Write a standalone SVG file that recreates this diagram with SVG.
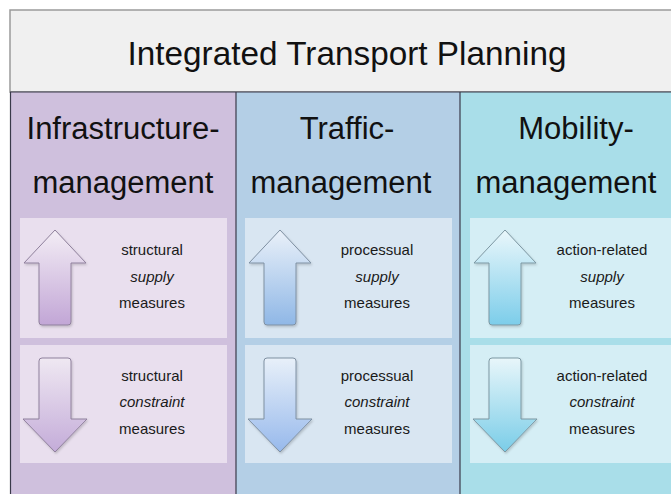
<svg xmlns="http://www.w3.org/2000/svg" xmlns:xlink="http://www.w3.org/1999/xlink" width="671" height="494" viewBox="0 0 671 494">
  <style>
    .title { font-family: "Liberation Sans", Arial, sans-serif; font-size: 34px; fill: #111; text-anchor: middle; }
    .head { font-family: "Liberation Sans", Arial, sans-serif; font-size: 31px; fill: #111; text-anchor: middle; }
    .lbl { font-family: "Liberation Sans", Arial, sans-serif; font-size: 15px; fill: #1a1a1a; text-anchor: middle; }
    .it { font-style: italic; }
    .divider { stroke: #3a3a4a; stroke-width: 1.2; }
    .arrow { stroke-width: 1; filter: url(#soft); }
  </style>
  <defs>
    <filter id="soft" x="-20%" y="-20%" width="150%" height="150%">
      <feDropShadow dx="1" dy="1.5" stdDeviation="1" flood-color="#000" flood-opacity="0.18"/>
    </filter>
    <!-- arrow shapes, drawn around x = 0 -->
    <path id="upArrow" d="M0,230 L31,263 L16,263 L16,322 Q16,325 13,325 L-13,325 Q-16,325 -16,322 L-16,263 L-31,263 Z"/>
    <path id="downArrow" d="M-16,361 Q-16,358 -13,358 L13,358 Q16,358 16,361 L16,419 L32,419 L0,452 L-32,419 L-16,419 Z"/>
    <linearGradient id="gUp1" x1="0" y1="0" x2="0" y2="1">
      <stop offset="0" stop-color="#f3edf5"/><stop offset="1" stop-color="#c2a6d6"/>
    </linearGradient>
    <linearGradient id="gDn1" x1="0" y1="0" x2="0" y2="1">
      <stop offset="0" stop-color="#efe8f2"/><stop offset="1" stop-color="#c4acd9"/>
    </linearGradient>
    <linearGradient id="gUp2" x1="0" y1="0" x2="0" y2="1">
      <stop offset="0" stop-color="#eaf1f9"/><stop offset="1" stop-color="#8fb7e6"/>
    </linearGradient>
    <linearGradient id="gDn2" x1="0" y1="0" x2="0" y2="1">
      <stop offset="0" stop-color="#e8f0f9"/><stop offset="1" stop-color="#97b9ec"/>
    </linearGradient>
    <linearGradient id="gUp3" x1="0" y1="0" x2="0" y2="1">
      <stop offset="0" stop-color="#eaf7fb"/><stop offset="1" stop-color="#7ccdea"/>
    </linearGradient>
    <linearGradient id="gDn3" x1="0" y1="0" x2="0" y2="1">
      <stop offset="0" stop-color="#e8f6fa"/><stop offset="1" stop-color="#7acde8"/>
    </linearGradient>
  </defs>

  <rect width="671" height="494" fill="#ffffff"/>

  <!-- header band -->
  <g id="header">
    <rect x="10" y="10" width="670" height="82" fill="#f0f0f0" stroke="#9a9a9a" stroke-width="1.5"/>
    <text class="title" x="347" y="65" textLength="439" lengthAdjust="spacingAndGlyphs">Integrated Transport Planning</text>
  </g>

  <!-- column 1 -->
  <g id="infrastructure">
    <rect x="10" y="92" width="226" height="410" fill="#cfc0dd"/>
    <text class="head" x="123" y="139">Infrastructure-</text>
    <text class="head" x="123" y="193">management</text>
    <g id="infra-supply">
      <rect x="20" y="218" width="207" height="120" fill="#e9dfee"/>
      <use xlink:href="#upArrow" transform="translate(55,0)" class="arrow" fill="url(#gUp1)" stroke="#8f809c"/>
      <text class="lbl" x="152" y="255">structural</text>
      <text class="lbl it" x="152" y="282">supply</text>
      <text class="lbl" x="152" y="308">measures</text>
    </g>
    <g id="infra-constraint">
      <rect x="20" y="345" width="207" height="118" fill="#e9dfee"/>
      <use xlink:href="#downArrow" transform="translate(55,0)" class="arrow" fill="url(#gDn1)" stroke="#8f809c"/>
      <text class="lbl" x="152" y="381">structural</text>
      <text class="lbl it" x="152" y="407">constraint</text>
      <text class="lbl" x="152" y="434">measures</text>
    </g>
  </g>

  <!-- column 2 -->
  <g id="traffic">
    <rect x="236" y="92" width="224" height="410" fill="#b4cfe6"/>
    <text class="head" x="347" y="139">Traffic-</text>
    <text class="head" x="341" y="193">management</text>
    <g id="traffic-supply">
      <rect x="245" y="218" width="207" height="120" fill="#d9e6f2"/>
      <use xlink:href="#upArrow" transform="translate(280,0)" class="arrow" fill="url(#gUp2)" stroke="#7f90a2"/>
      <text class="lbl" x="377" y="255">processual</text>
      <text class="lbl it" x="377" y="282">supply</text>
      <text class="lbl" x="377" y="308">measures</text>
    </g>
    <g id="traffic-constraint">
      <rect x="245" y="345" width="207" height="118" fill="#d9e6f2"/>
      <use xlink:href="#downArrow" transform="translate(280,0)" class="arrow" fill="url(#gDn2)" stroke="#7f90a2"/>
      <text class="lbl" x="377" y="381">processual</text>
      <text class="lbl it" x="377" y="407">constraint</text>
      <text class="lbl" x="377" y="434">measures</text>
    </g>
  </g>

  <!-- column 3 -->
  <g id="mobility">
    <rect x="460" y="92" width="220" height="410" fill="#a9dee9"/>
    <text class="head" x="576" y="139">Mobility-</text>
    <text class="head" x="566" y="193">management</text>
    <g id="mobility-supply">
      <rect x="470" y="218" width="210" height="120" fill="#d5eef5"/>
      <use xlink:href="#upArrow" transform="translate(505,0)" class="arrow" fill="url(#gUp3)" stroke="#7d97a2"/>
      <text class="lbl" x="602" y="255">action-related</text>
      <text class="lbl it" x="602" y="282">supply</text>
      <text class="lbl" x="602" y="308">measures</text>
    </g>
    <g id="mobility-constraint">
      <rect x="470" y="345" width="210" height="118" fill="#d5eef5"/>
      <use xlink:href="#downArrow" transform="translate(505,0)" class="arrow" fill="url(#gDn3)" stroke="#7d97a2"/>
      <text class="lbl" x="602" y="381">action-related</text>
      <text class="lbl it" x="602" y="407">constraint</text>
      <text class="lbl" x="602" y="434">measures</text>
    </g>
  </g>

  <!-- frame lines between the bands -->
  <g id="connectors">
    <line class="divider" x1="10" y1="92" x2="671" y2="92" stroke="#8a8a8a"/>
    <line class="divider" x1="10.5" y1="92" x2="10.5" y2="494"/>
    <line class="divider" x1="236" y1="92" x2="236" y2="494"/>
    <line class="divider" x1="460" y1="92" x2="460" y2="494"/>
  </g>
</svg>
